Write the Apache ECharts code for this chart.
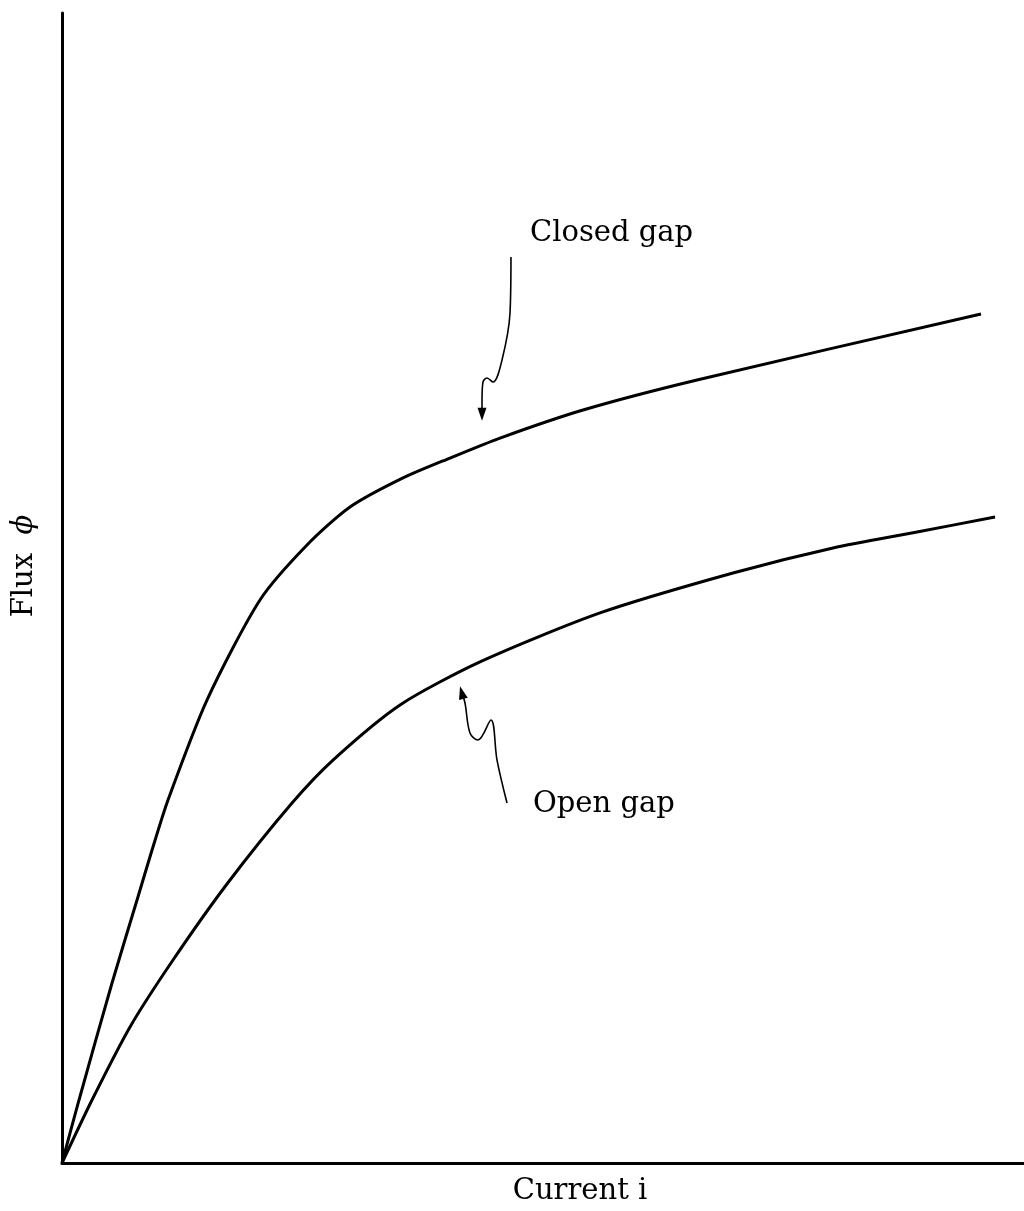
<!DOCTYPE html>
<html>
<head>
<meta charset="utf-8">
<script src="https://cdn.jsdelivr.net/npm/echarts@6/dist/echarts.min.js"></script>
<style>
html,body{margin:0;padding:0;background:#fff;}
#chart{width:1024px;height:1211px;}
</style>
</head>
<body>
<div id="chart"></div>
<script>
// Curves: [current, flux] in arbitrary units (0..100)
const closedGap = [
  [0,0],[1.77,5.48],[5.20,15.65],[7.80,22.87],[9.36,27.22],[11.02,31.57],
  [15.07,40.26],[20.58,48.96],[25.47,53.74],[29.94,57.04],[35.45,59.57],[40.33,61.30],
  [45.53,63.04],[54.16,65.48],[66.01,68.09],[95.53,73.83]
];
const openGap = [
  [0,0],[3.12,5.48],[7.07,11.83],[11.54,17.65],[17.15,24.26],[23.91,31.30],
  [28.17,35.04],[35.14,39.83],[43.45,43.57],[55.93,47.83],
  [69.75,51.30],[80.15,53.48],[88.88,54.87],[96.99,56.17]
];
// Annotation arrows (hand-drawn pointers)
const closedArrow = [
  [46.67,78.78],[46.57,73.91],[45.74,69.83],[44.80,67.91],[44.18,68.26],[43.76,67.91],[43.66,66.35],[43.66,65.1]
];
const openArrow = [
  [46.26,31.30],[45.22,35.04],[44.59,38.52],[43.24,36.78],[42.41,37.39],[41.89,40.00],[41.55,40.9]
];
const labelPoints = [
  {name:'Closed gap', value:[48.65,80.87]},
  {name:'Open gap', value:[48.96,31.22]}
];
const xName = 'Current i';
const yName = 'Flux  {s|ϕ}';

const FONT = 'DejaVu Serif';
const chart = echarts.init(document.getElementById('chart'), null, {renderer:'canvas'});

function arrowData(arr, rot){
  return arr.map((p,i)=> i===arr.length-1
    ? {value:p, symbol:'triangle', symbolSize:[9,13], symbolRotate:rot, itemStyle:{color:'#000'}}
    : {value:p, symbol:'none'});
}

chart.setOption({
  animation:false,
  backgroundColor:'#fff',
  grid:{left:62, right:0, top:13, bottom:48, containLabel:false, outerBoundsMode:'none'},
  xAxis:{
    type:'value', min:0, max:100,
    name:xName, nameLocation:'middle', nameGap:14,
    nameTextStyle:{fontFamily:FONT, fontSize:29, color:'#000', padding:[0,0,0,74]},
    axisLine:{show:true, lineStyle:{color:'#000', width:3}},
    axisTick:{show:false}, axisLabel:{show:false}, splitLine:{show:false}
  },
  yAxis:{
    type:'value', min:0, max:100,
    name:yName, nameLocation:'middle', nameGap:23, nameRotate:90,
    nameTextStyle:{fontFamily:FONT, fontSize:29, color:'#000', padding:[0,0,0,44],
      rich:{s:{fontFamily:FONT, fontSize:29, fontStyle:'italic', color:'#000'}}},
    axisLine:{show:true, lineStyle:{color:'#000', width:3}},
    axisTick:{show:false}, axisLabel:{show:false}, splitLine:{show:false}
  },
  series:[
    {type:'line', name:'Closed gap', data:closedGap, smooth:0.25, showSymbol:false,
     lineStyle:{color:'#000', width:3}},
    {type:'line', name:'Open gap', data:openGap, smooth:0.25, showSymbol:false,
     lineStyle:{color:'#000', width:3}},
    {type:'line', data:arrowData(closedArrow,180), smooth:0.35,
     lineStyle:{color:'#000', width:1.6}},
    {type:'line', data:arrowData(openArrow,15), smooth:0.35,
     lineStyle:{color:'#000', width:1.6}},
    {type:'scatter', data:labelPoints, symbolSize:0, itemStyle:{opacity:1},
     label:{show:true, position:'right', distance:0, formatter:'{b}', opacity:1,
       fontFamily:FONT, fontSize:29, color:'#000'}}
  ]
});
</script>
</body>
</html>
